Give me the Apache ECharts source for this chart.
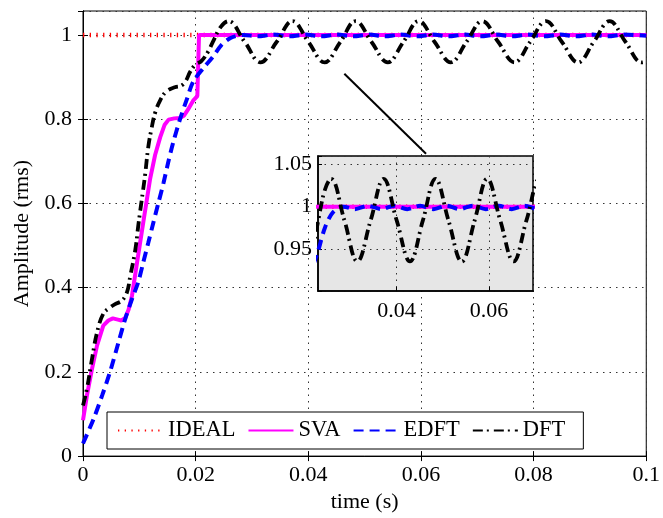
<!DOCTYPE html>
<html>
<head>
<meta charset="utf-8">
<title>Amplitude (rms)</title>
<script src="https://cdn.jsdelivr.net/npm/echarts@6.0.0/dist/echarts.min.js"></script>
<style>
  html, body { margin: 0; padding: 0; background: #fff; }
  #chart { width: 663px; height: 518px; }
</style>
</head>
<body>
<div id="chart"></div>
<script>
// time (s) / amplitude pairs
const idealData = [[0, 1], [0.1, 1]]

const svaData = [
  [0, 0.085], [0.0007, 0.144], [0.0016, 0.207], [0.0025, 0.263], [0.0036, 0.31],
  [0.0045, 0.322], [0.0053, 0.327], [0.0062, 0.324], [0.0068, 0.322], [0.0075, 0.328],
  [0.0081, 0.348], [0.0087, 0.381], [0.0096, 0.46], [0.0107, 0.555], [0.0119, 0.657],
  [0.0128, 0.715], [0.0137, 0.757], [0.0145, 0.787], [0.0152, 0.799], [0.0162, 0.802],
  [0.0172, 0.803], [0.0179, 0.808], [0.0186, 0.822], [0.0196, 0.845], [0.0203, 0.855],
  [0.0206, 1.0], [0.1, 1.0]
]

const edftData = [
  [0, 0.03], [0.0019, 0.089], [0.0034, 0.144], [0.0048, 0.2], [0.0063, 0.27],
  [0.0075, 0.326], [0.0087, 0.373], [0.0098, 0.413], [0.0107, 0.46], [0.0116, 0.507],
  [0.0125, 0.555], [0.0134, 0.602], [0.0143, 0.649], [0.0151, 0.696], [0.016, 0.744],
  [0.0172, 0.799], [0.0184, 0.846], [0.0196, 0.89], [0.0216, 0.925], [0.023, 0.947],
  [0.0245, 0.975], [0.0262, 0.993], [0.0285, 1.0], [0.031, 0.997], [0.0338, 1.001],
  [0.0367, 0.997], [0.0395, 1.001], [0.0423, 0.997], [0.0451, 1.001], [0.048, 0.997],
  [0.0508, 1.001], [0.0536, 0.997], [0.0564, 1.001], [0.0593, 0.997], [0.0621, 1.001],
  [0.0649, 0.997], [0.0677, 1.001], [0.0706, 0.997], [0.0734, 1.001], [0.0762, 0.997],
  [0.079, 1.001], [0.0819, 0.997], [0.0847, 1.001], [0.0875, 0.997], [0.0903, 1.001],
  [0.0932, 0.997], [0.096, 1.001], [0.1, 0.998]
]

const dftData = [
  [0, 0.12], [0.0007, 0.16], [0.0016, 0.231], [0.0025, 0.294], [0.0036, 0.338],
  [0.0048, 0.353], [0.0057, 0.361], [0.0069, 0.369], [0.0078, 0.389], [0.0084, 0.428],
  [0.0093, 0.491], [0.0098, 0.546], [0.0104, 0.606], [0.011, 0.665], [0.0116, 0.735],
  [0.0122, 0.78], [0.0128, 0.815], [0.0137, 0.845], [0.0148, 0.866], [0.0163, 0.876],
  [0.0175, 0.88], [0.0183, 0.892], [0.019, 0.912], [0.02, 0.93], [0.021, 0.938],
  [0.0222, 0.96], [0.0231, 0.985], [0.0245, 1.02], [0.0258, 1.033], [0.0287, 0.984],
  [0.0315, 0.935], [0.0344, 0.984], [0.0372, 1.033], [0.04, 0.984], [0.0429, 0.935],
  [0.0457, 0.984], [0.0484, 1.033], [0.0512, 0.984], [0.0541, 0.935], [0.0569, 0.984],
  [0.0596, 1.033], [0.0624, 0.984], [0.0653, 0.935], [0.0681, 0.984], [0.0709, 1.033],
  [0.0737, 0.984], [0.0766, 0.935], [0.0794, 0.984], [0.0822, 1.033], [0.085, 0.984],
  [0.0879, 0.935], [0.0907, 0.984], [0.0935, 1.033], [0.0963, 0.984], [0.0992, 0.935],
  [0.1, 0.937]
]

// pointer from the steady-state region to the zoom box
const zoomPointer = [[0.0464, 0.908], [0.0609, 0.718]]

const legendNames = ['IDEAL', 'SVA', 'EDFT', 'DFT']
const insetXTicks = [0.04, 0.06]

const FONT = 'Liberation Serif'
const gridDots = { color: '#333', width: 1, type: [1.5, 5] }

const chart = echarts.init(document.getElementById('chart'))

const styles = {
  IDEAL: { color: '#ff0000', width: 4.5, type: [1.3, 5.4] },
  SVA: { color: '#ff00ff', width: 4, type: 'solid' },
  EDFT: { color: '#0000ff', width: 4, type: [10, 6] },
  DFT: { color: '#000000', width: 3.8, type: [10, 4, 2, 5] }
}
const dataByName = { IDEAL: idealData, SVA: svaData, EDFT: edftData, DFT: dftData }

const makeSeries = (name, xi, yi, z) => ({
  name: name,
  type: 'line',
  xAxisIndex: xi,
  yAxisIndex: yi,
  z: z,
  data: dataByName[name],
  symbol: 'none',
  smooth: name === 'DFT' ? 0.4 : (name === 'EDFT' ? 0.3 : false),
  clip: true,
  lineStyle: { color: styles[name].color, width: styles[name].width, type: styles[name].type, cap: 'butt' },
  itemStyle: { color: styles[name].color },
  animation: false
})

const series = []
legendNames.forEach(n => series.push(makeSeries(n, 0, 0, 2)))
legendNames.forEach(n => series.push(makeSeries(n, 2, 2, 8)))
series.push({
  type: 'line',
  xAxisIndex: 0,
  yAxisIndex: 0,
  data: zoomPointer,
  symbol: 'none',
  lineStyle: { color: '#000', width: 2 },
  silent: true,
  animation: false
})

const option = {
  backgroundColor: '#fff',
  animation: false,
  textStyle: { fontFamily: FONT, color: '#000' },
  grid: [
    { left: 83, right: 15, top: 11, bottom: 60, show: true, backgroundColor: '#fff', borderColor: '#000', borderWidth: 1, z: 0 },
    { left: 318, top: 156, width: 215, height: 135, show: true, backgroundColor: '#e6e6e6', borderColor: '#000', borderWidth: 1.5, z: 5 }
  ],
  legend: {
    data: legendNames,
    left: 107,
    top: 412,
    orient: 'horizontal',
    itemWidth: 45,
    itemHeight: 14,
    itemGap: 12,
    padding: [7, 18, 7, 10],
    borderColor: '#000',
    borderWidth: 1,
    backgroundColor: '#fff',
    itemStyle: { opacity: 0 },
    textStyle: { fontFamily: FONT, fontSize: 22.5, color: '#000', lineHeight: 22 }
  },
  xAxis: [
    {
      type: 'value', gridIndex: 0, min: 0, max: 0.1, interval: 0.02,
      name: 'time (s)', nameLocation: 'middle', nameGap: 34,
      nameTextStyle: { fontFamily: FONT, fontSize: 22, color: '#000' },
      axisLine: { lineStyle: { color: '#000', width: 1 } },
      axisTick: { inside: true, length: 5, lineStyle: { color: '#000' } },
      axisLabel: { fontFamily: FONT, fontSize: 22, color: '#000', margin: 8 },
      splitLine: { show: true, lineStyle: gridDots }
    },
    {
      type: 'value', gridIndex: 0, position: 'top', min: 0, max: 0.1, interval: 0.02,
      axisLine: { lineStyle: { color: '#000', width: 1 } },
      axisTick: { inside: true, length: 5, lineStyle: { color: '#000' } },
      axisLabel: { show: false },
      splitLine: { show: false }
    },
    {
      type: 'value', gridIndex: 1, min: 0.023, max: 0.0695, z: 7,
      axisLine: { lineStyle: { color: '#000', width: 1.5 } },
      axisTick: { inside: true, length: 4, customValues: insetXTicks, lineStyle: { color: '#000' } },
      axisLabel: { fontFamily: FONT, fontSize: 22, color: '#000', margin: 9, customValues: insetXTicks },
      splitLine: { show: true, lineStyle: gridDots }
    }
  ],
  yAxis: [
    {
      type: 'value', gridIndex: 0, min: 0, max: 1.057, interval: 0.2,
      name: 'Amplitude (rms)', nameLocation: 'middle', nameGap: 49,
      nameTextStyle: { fontFamily: FONT, fontSize: 22, color: '#000' },
      axisLine: { lineStyle: { color: '#000', width: 1 } },
      axisTick: { inside: true, length: 5, lineStyle: { color: '#000' } },
      axisLabel: { fontFamily: FONT, fontSize: 22, color: '#000', margin: 11, showMaxLabel: false },
      splitLine: { show: true, lineStyle: gridDots }
    },
    {
      type: 'value', gridIndex: 0, position: 'right', min: 0, max: 1.057, interval: 0.2,
      axisLine: { show: true, lineStyle: { color: '#000', width: 1 } },
      axisTick: { inside: true, length: 5, lineStyle: { color: '#000' } },
      axisLabel: { show: false },
      splitLine: { show: false }
    },
    {
      type: 'value', gridIndex: 1, min: 0.9, max: 1.06, interval: 0.05, z: 7,
      axisLine: { lineStyle: { color: '#000', width: 1.5 } },
      axisTick: { inside: true, length: 4, lineStyle: { color: '#000' } },
      axisLabel: {
        fontFamily: FONT, fontSize: 22, color: '#000', margin: 6,
        formatter: v => (v < 0.92 || v > 1.055) ? '' : String(+v.toFixed(2))
      },
      splitLine: { show: true, lineStyle: gridDots }
    }
  ],
  series: series
}

chart.setOption(option)
</script>
</body>
</html>
